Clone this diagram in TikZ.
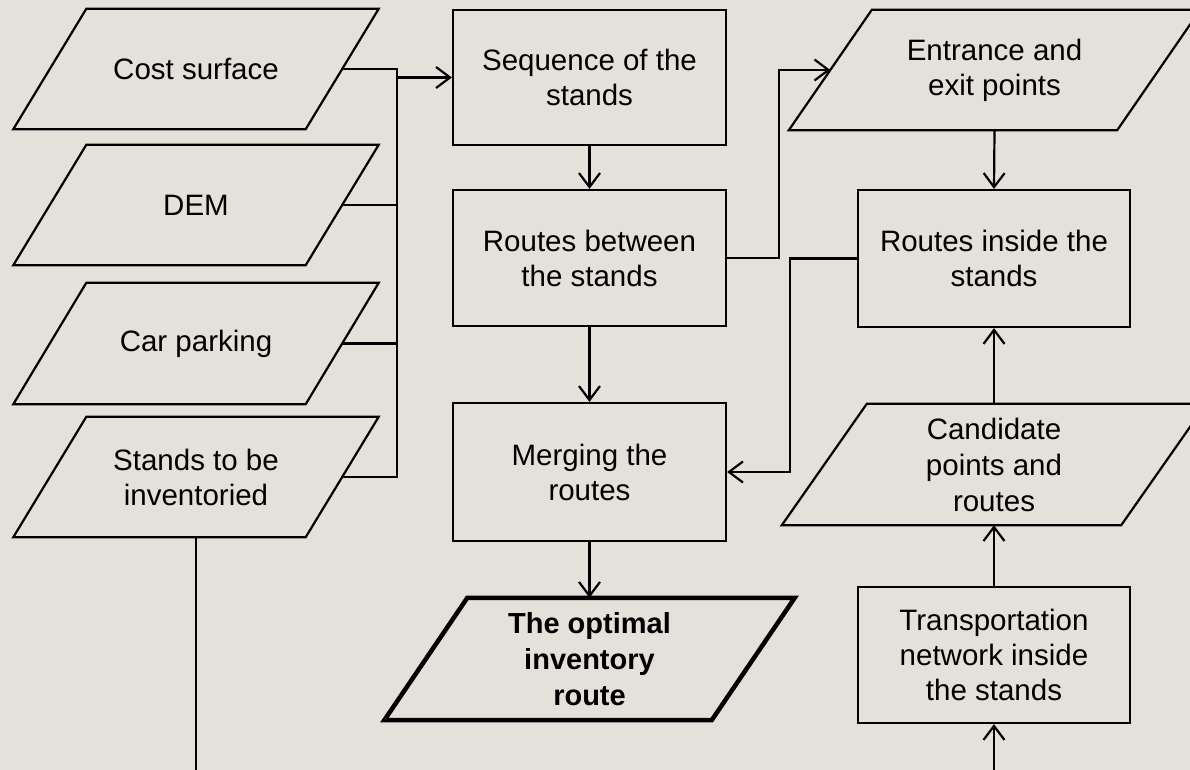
\documentclass[tikz,border=0pt]{standalone}
\usepackage{fontspec}
\setmainfont{Liberation Sans}
\usetikzlibrary{arrows.meta,calc}
\definecolor{bg}{RGB}{228,225,218}
\tikzset{
  txt/.style={inner sep=0pt, align=center, font=\fontsize{29.5}{35}\selectfont},
  procbox/.style={txt, draw, line width=2.2pt, minimum width=273pt, minimum height=136pt},
  iobox/.style={txt, minimum height=120pt},
  link/.style={line width=2.2pt},
  arr/.style={line width=2.2pt, -{Straight Barb[length=14pt,width=21pt]}}
}
\newcommand\drawpara[3]{\draw[line width=#3] ($(#1.north west)+(#2/2,0)$) -- ($(#1.north east)+(#2/2,0)$) -- ($(#1.south east)-(#2/2,0)$) -- ($(#1.south west)-(#2/2,0)$) -- cycle;}
\begin{document}
\begin{tikzpicture}[x=1pt,y=-1pt]
\useasboundingbox (0,0) rectangle (1190,770);
\clip (0,0) rectangle (1190,770);
\fill[bg] (0,0) rectangle (1190,770);

% left inputs
\node[iobox, minimum width=292pt] (cost) at (196,69) {Cost surface};
\node[iobox, minimum width=292pt] (dem) at (196,205) {DEM};
\node[iobox, minimum width=292pt, minimum height=121pt] (car) at (196,343.5) {Car parking};
\node[iobox, minimum width=292pt] (stands) at (196,477) {Stands to be\\inventoried};
\drawpara{cost}{73}{2.2pt}
\drawpara{dem}{73}{2.2pt}
\drawpara{car}{73}{2.2pt}
\drawpara{stands}{73}{2.2pt}

% centre column
\node[procbox, minimum height=135pt] (seq) at (589.5,77.5) {Sequence of the\\stands};
\node[procbox] (rb) at (589.5,258) {Routes between\\the stands};
\node[procbox, minimum height=138pt] (mg) at (589.5,472) {Merging the\\routes};
\node[iobox, minimum width=327pt, minimum height=122pt, font=\fontsize{29}{36}\selectfont\bfseries] (opt) at (589.5,659) {The optimal\\inventory\\route};
\drawpara{opt}{83}{4.5pt}

% right column
\node[iobox, minimum width=328pt] (ent) at (994.5,70) {Entrance and\\exit points};
\drawpara{ent}{83}{2.2pt}
\node[procbox, minimum width=272pt, minimum height=137pt] (ri) at (994,258.5) {Routes inside the\\stands};
\node[iobox, minimum width=339pt, minimum height=121pt, font=\fontsize{29.5}{36}\selectfont] (cand) at (994,464.5) {Candidate\\points and\\routes};
\drawpara{cand}{85}{2.2pt}
\node[procbox, minimum width=272pt] (tr) at (994,655) {Transportation\\network inside\\the stands};

% bus on the left
\coordinate (bt) at (397,69);
\coordinate (bb) at (397,477);
\draw[link] (cost.east) -- (bt) -- (bb) -- (stands.east);
\draw[link] (dem.east) -- (dem.east -| bt);
\draw[link] (car.east) -- (car.east -| bt);
\draw[arr] (bt |- seq.west) -- (seq.west);

% centre flow
\draw[arr] (seq.south) -- (rb.north);
\draw[arr] (rb.south) -- (mg.north);
\draw[arr] (mg.south) -- (opt.north);

% cross links
\draw[arr] (rb.east) -- ++(52,0) |- (ent.west);
\draw[arr] (ri.west) -- ++(-67,0) |- (mg.east);

% right flow
\draw[arr] (ent.south) -- (ri.north);
\draw[arr] (cand.north) -- (ri.south);
\draw[arr] (tr.north) -- (cand.south);

% lines leaving the picture
\coordinate (sbot) at (196,780);
\coordinate (tbot) at (994,780);
\draw[link] (stands.south) -- (sbot);
\draw[arr] (tbot) -- (tr.south);
\end{tikzpicture}
\end{document}
